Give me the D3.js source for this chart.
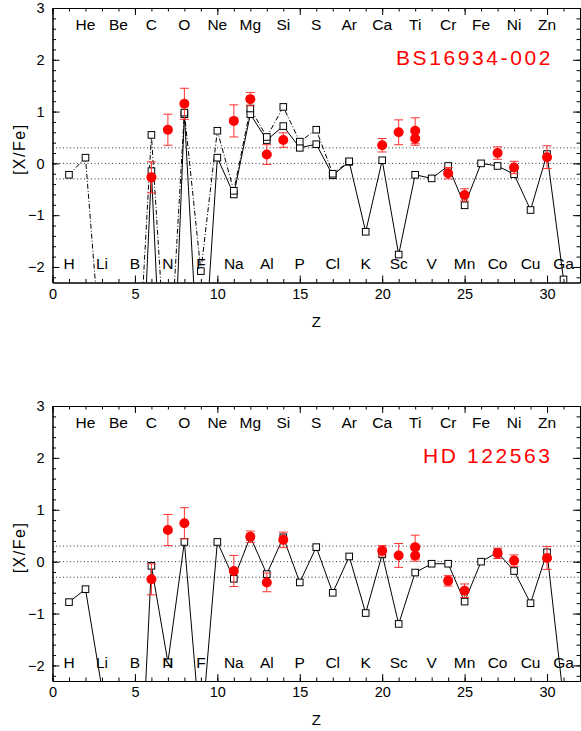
<!DOCTYPE html>
<html>
<head>
<meta charset="utf-8">
<script src="https://cdn.jsdelivr.net/npm/d3@7"></script>
<style>
body { margin: 0; background: #fff; }
text { font-family: "Liberation Sans", Arial, sans-serif; }
</style>
</head>
<body>
<svg id="chart" width="581" height="731"></svg>
<script>
// element symbols for Z = 1..31
const elements = ['H','He','Li','Be','B','C','N','O','F','Ne','Na','Mg','Al','Si','P','S','Cl','Ar','K','Ca','Sc','Ti','V','Cr','Mn','Fe','Co','Ni','Cu','Zn','Ga']
const xTicks = [0, 5, 10, 15, 20, 25, 30]
const yTicks = [-2, -1, 0, 1, 2, 3]
const refLines = [0.3, 0, -0.3]

// BS16934-002 : solid model
const bsSolidZ = [5,6,7,8,9,10,11,12,13,14,15,16,17,18,19,20,21,22,23,24,25,26,27,28,29,30,31]
const bsSolid = [-7.3,-0.15,-7.0,0.95,-4.8,0.11,-0.60,0.95,0.45,0.72,0.30,0.37,-0.23,0.03,-1.32,0.06,-1.76,-0.22,-0.29,-0.05,-0.81,0.00,-0.05,-0.21,-0.90,0.18,-2.24]
// BS16934-002 : dash-dot model
const bsDashZ = [1,2,3,4,5,6,7,8,9,10,11,12,13,14,15,16,17,18]
const bsDash = [-0.22,0.11,-3.9,-6.0,-5.2,0.55,-4.5,0.98,-2.08,0.63,-0.53,1.06,0.51,1.09,0.42,0.65,-0.20,0.04]
// BS16934-002 : observed
const bsObsZ = [6,7,8,11,12,13,14,20,21,22,22,24,25,27,28,30]
const bsObs = [-0.27,0.65,1.15,0.82,1.24,0.17,0.45,0.35,0.60,0.63,0.48,-0.19,-0.61,0.20,-0.08,0.12]
const bsErr = [0.30,0.30,0.30,0.31,0.13,0.19,0.14,0.13,0.24,0.25,0.13,0.11,0.12,0.12,0.12,0.22]

// HD 122563 : solid model
const hdSolidZ = [1,2,3,4,5,6,7,8,9,10,11,12,13,14,15,16,17,18,19,20,21,22,23,24,25,26,27,28,29,30,31]
const hdSolid = [-0.78,-0.53,-2.45,-5.0,-6.6,-0.08,-1.94,0.38,-3.4,0.38,-0.33,0.48,-0.24,0.47,-0.40,0.28,-0.60,0.10,-0.99,0.14,-1.20,-0.21,-0.04,-0.04,-0.77,0.00,0.18,-0.18,-0.80,0.18,-2.66]
// HD 122563 : observed
const hdObsZ = [6,7,8,11,12,13,14,20,21,22,22,24,25,27,28,30]
const hdObs = [-0.34,0.61,0.74,-0.18,0.48,-0.40,0.42,0.21,0.12,0.28,0.12,-0.37,-0.56,0.16,0.02,0.07]
const hdErr = [0.30,0.30,0.30,0.30,0.11,0.18,0.15,0.10,0.23,0.23,0.11,0.10,0.13,0.10,0.11,0.22]

const svg = d3.select('#chart')
const left = 52.5
const right = 580
const red = '#ff0000'
const errRed = '#ff3030'

const xScale = d3.scaleLinear()
	.domain([0, 32])
	.range([left, right])

const drawPanel = (top, bottom, title, titleX, models, obsZ, obs, err) => {
	const yScale = d3.scaleLinear()
		.domain([-2.3, 3])
		.range([bottom, top])

	const g = svg.append('g')
	const clipId = 'clip' + Math.round(top)
	g.append('clipPath').attr('id', clipId)
		.append('rect')
		.attr('x', left).attr('y', top)
		.attr('width', right - left).attr('height', bottom - top)

	// dotted reference lines
	g.selectAll('line.ref')
		.data(refLines)
		.enter()
		.append('line')
		.attr('class', 'ref')
		.attr('x1', left).attr('x2', right)
		.attr('y1', d => yScale(d)).attr('y2', d => yScale(d))
		.attr('stroke', '#333')
		.attr('stroke-width', 1)
		.attr('stroke-dasharray', '1,2.5')

	const plot = g.append('g').attr('clip-path', `url(#${clipId})`)

	const line = d3.line()
		.x(d => xScale(d[0]))
		.y(d => yScale(d[1]))

	models.forEach(m => {
		const pts = m.z.map((z, i) => [z, m.v[i]])
		plot.append('path')
			.datum(pts)
			.attr('d', line)
			.attr('fill', 'none')
			.attr('stroke', '#000')
			.attr('stroke-width', 1)
			.attr('stroke-dasharray', m.dash)
	})

	models.forEach(m => {
		const pts = m.z.map((z, i) => [z, m.v[i]])
		plot.selectAll(null)
			.data(pts)
			.enter()
			.append('rect')
			.attr('x', d => xScale(d[0]) - 3.3)
			.attr('y', d => yScale(d[1]) - 3.3)
			.attr('width', 6.6)
			.attr('height', 6.6)
			.attr('fill', '#fff')
			.attr('stroke', '#000')
			.attr('stroke-width', 1)
	})

	// observations with error bars
	const pts = obsZ.map((z, i) => ({ z: z, v: obs[i], e: err[i] }))
	const bars = plot.selectAll('g.obs')
		.data(pts)
		.enter()
		.append('g')
		.attr('class', 'obs')
		.attr('stroke', errRed)
		.attr('stroke-width', 1)

	bars.append('line')
		.attr('x1', d => xScale(d.z)).attr('x2', d => xScale(d.z))
		.attr('y1', d => yScale(d.v + d.e)).attr('y2', d => yScale(d.v - d.e))
	bars.append('line')
		.attr('x1', d => xScale(d.z) - 4.5).attr('x2', d => xScale(d.z) + 4.5)
		.attr('y1', d => yScale(d.v + d.e)).attr('y2', d => yScale(d.v + d.e))
	bars.append('line')
		.attr('x1', d => xScale(d.z) - 4.5).attr('x2', d => xScale(d.z) + 4.5)
		.attr('y1', d => yScale(d.v - d.e)).attr('y2', d => yScale(d.v - d.e))

	plot.selectAll('circle.obs')
		.data(pts)
		.enter()
		.append('circle')
		.attr('class', 'obs')
		.attr('cx', d => xScale(d.z))
		.attr('cy', d => yScale(d.v))
		.attr('r', 5)
		.attr('fill', red)

	// element symbols, even Z on top row, odd Z on bottom row
	g.selectAll('text.el')
		.data(elements)
		.enter()
		.append('text')
		.attr('class', 'el')
		.attr('x', (d, i) => xScale(i + 1))
		.attr('y', (d, i) => yScale((i + 1) % 2 === 0 ? 2.68 : -1.94))
		.attr('dy', '0.36em')
		.attr('text-anchor', 'middle')
		.attr('font-size', '15.5px')
		.text(d => d)

	// axes, ticks inward on all four sides
	const xMinor = d3.range(0, 33)
	const yMinor = d3.range(-11, 16).map(d => d / 5)

	const addAxis = (axis, tx, ty) => {
		const a = g.append('g')
			.attr('transform', `translate(${tx}, ${ty})`)
			.call(axis)
		a.selectAll('text')
			.attr('font-family', '"Liberation Sans", Arial, sans-serif')
			.attr('font-size', '14.5px')
			.attr('fill', '#000')
		a.selectAll('line').attr('stroke', '#000')
		a.select('path.domain').attr('stroke', '#000')
		return a
	}

	addAxis(d3.axisBottom(xScale).tickValues(xMinor).tickSize(-3.5).tickSizeOuter(0).tickFormat(''), 0, bottom)
	addAxis(d3.axisBottom(xScale).tickValues(xTicks).tickSize(-7).tickSizeOuter(0).tickPadding(6), 0, bottom)
	addAxis(d3.axisTop(xScale).tickValues(xMinor).tickSize(-3.5).tickSizeOuter(0).tickFormat(''), 0, top)
	addAxis(d3.axisTop(xScale).tickValues(xTicks).tickSize(-7).tickSizeOuter(0).tickFormat(''), 0, top)
	addAxis(d3.axisLeft(yScale).tickValues(yMinor).tickSize(-3.5).tickSizeOuter(0).tickFormat(''), left, 0)
	addAxis(d3.axisLeft(yScale).tickValues(yTicks).tickSize(-7).tickSizeOuter(0).tickPadding(8).tickFormat(d3.format('d')), left, 0)
	addAxis(d3.axisRight(yScale).tickValues(yMinor).tickSize(-3.5).tickSizeOuter(0).tickFormat(''), right, 0)
	addAxis(d3.axisRight(yScale).tickValues(yTicks).tickSize(-7).tickSizeOuter(0).tickFormat(''), right, 0)

	// axis titles
	g.append('text')
		.attr('x', (left + right) / 2)
		.attr('y', bottom + 44)
		.attr('text-anchor', 'middle')
		.attr('font-size', '15px')
		.text('Z')

	g.append('text')
		.attr('transform', `translate(25, ${(top + bottom) / 2 + 4}) rotate(-90)`)
		.attr('text-anchor', 'middle')
		.attr('font-size', '16px')
		.attr('letter-spacing', '1.5px')
		.text('[X/Fe]')

	// star name
	g.append('text')
		.attr('x', titleX)
		.attr('y', top + 57)
		.attr('font-size', '21px')
		.attr('letter-spacing', '2.6px')
		.attr('fill', red)
		.text(title)
}

drawPanel(8, 282.5, 'BS16934-002', 396, [
	{ z: bsSolidZ, v: bsSolid, dash: null },
	{ z: bsDashZ, v: bsDash, dash: '5,2,1,2' }
], bsObsZ, bsObs, bsErr)

drawPanel(406, 681, 'HD 122563', 423, [
	{ z: hdSolidZ, v: hdSolid, dash: null }
], hdObsZ, hdObs, hdErr)
</script>
</body>
</html>
